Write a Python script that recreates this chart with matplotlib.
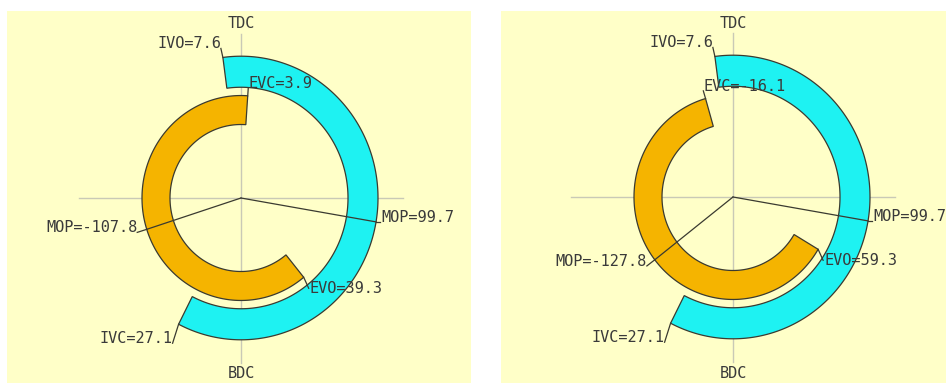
import numpy as np
import matplotlib
matplotlib.use("Agg")
import matplotlib.pyplot as plt

# ---------------- data (crank degrees) ----------------
panels = ["left", "right"]
ivo = [7.6, 7.6]          # intake valve opens, deg before TDC
ivc = [27.1, 27.1]        # intake valve closes, deg after BDC
evo = [39.3, 59.3]        # exhaust valve opens, deg before BDC
evc = [3.9, -16.1]        # exhaust valve closes, deg after TDC
mop_in = [99.7, 99.7]     # intake max opening point
mop_ex = [-107.8, -127.8] # exhaust max opening point

# ---------------- style ----------------
BG = "#FFFFC8"
CYAN = "#1EF2F2"
ORANGE = "#F5B400"
EDGE = "#3A3A30"
TXT = "#3A3A3A"
GRID = "#C9C9B6"
FONT = dict(family="DejaVu Sans Mono", fontsize=11, color=TXT)

R_IN_I, R_OUT_I = 107, 137   # intake ring radii (px)
R_IN_E, R_OUT_E = 71, 99     # exhaust ring radii (px)
K = 1.035                    # vertical stretch of the original picture

W, H = 951, 383
fig = plt.figure(figsize=(W / 100, H / 100), dpi=100)
fig.patch.set_facecolor("white")

# panel rectangles in pixels: (left, right, top, bottom, centre x, centre y)
frames = [(7, 471, 11, 383, 241, 198), (501, 946, 11, 383, 733, 197)]


def pol(theta, r):
    t = np.radians(theta)
    return r * np.sin(t), K * r * np.cos(t)


def ring(ax, th0, th1, r_in, r_out, color):
    t = np.linspace(th0, th1, 300)
    xo, yo = pol(t, r_out)
    xi, yi = pol(t[::-1], r_in)
    ax.fill(np.r_[xo, xi], np.r_[yo, yi], facecolor=color, edgecolor=EDGE,
            lw=0.9, zorder=2)


def label(ax, theta, r, text, dx, dy, ha, va, tdx=0, tdy=0):
    x0, y0 = pol(theta, r)
    x1, y1 = x0 + dx, y0 - dy
    ax.plot([x0, x1], [y0, y1], color=EDGE, lw=0.9, zorder=4)
    ax.text(x1 + tdx, y1 - tdy, text, ha=ha, va=va, zorder=5, **FONT)


for i, (l, r, t, b, cx, cy) in enumerate(frames):
    ax = fig.add_axes([l / W, (H - b) / H, (r - l) / W, (b - t) / H])
    ax.set_facecolor(BG)
    ax.set_xlim(l - cx, r - cx)
    ax.set_ylim(cy - b, cy - t)
    ax.set_axis_off()
    ax.add_patch(plt.Rectangle((0, 0), 1, 1, transform=ax.transAxes,
                               facecolor=BG, edgecolor="none", zorder=0))

    # crosshair
    ax.plot([-162, 162], [0, 0], color=GRID, lw=1, zorder=1)
    ax.plot([0, 0], [-165, 164], color=GRID, lw=1, zorder=1)

    # intake (cyan) and exhaust (orange) rings
    ring(ax, -ivo[i], 180 + ivc[i], R_IN_I, R_OUT_I, CYAN)
    ring(ax, 180 - evo[i], 360 + evc[i], R_IN_E, R_OUT_E, ORANGE)

    # MOP lines
    xm, ym = pol(mop_in[i], R_OUT_I)
    ax.plot([0, xm], [0, ym], color=EDGE, lw=0.9, zorder=3)
    xe, ye = pol(360 + mop_ex[i], R_OUT_E)
    ax.plot([0, xe], [0, ye], color=EDGE, lw=0.9, zorder=3)

    # TDC / BDC
    ax.text(0, 174, "TDC", ha="center", va="center", **FONT)
    ax.text(0, -176, "BDC", ha="center", va="center", **FONT)

    # labels with short leaders
    label(ax, -ivo[i], R_OUT_I, f"IVO={ivo[i]:g}", -2, -9, "right", "baseline")
    th = 360 + evc[i]
    ux, uy = np.sin(np.radians(th)), np.cos(np.radians(th))
    label(ax, th, R_OUT_E, f"EVC={evc[i]:g}", 8 * ux, -8 * uy, "left", "baseline")
    label(ax, mop_in[i], R_OUT_I, f"MOP={mop_in[i]:g}", 4, 0, "left", "baseline", tdx=1)
    th = 360 + mop_ex[i]
    ux, uy = np.sin(np.radians(th)), np.cos(np.radians(th))
    label(ax, th, R_OUT_E, f"MOP={mop_ex[i]:g}", 10 * ux, -10 * uy, "right", "baseline")
    label(ax, 180 - evo[i], R_OUT_E, f"EVO={evo[i]:g}", 5, 11, "left", "center", tdx=1)
    label(ax, 180 + ivc[i], R_OUT_I, f"IVC={ivc[i]:g}", -6, 19, "right", "baseline")

fig.savefig("out.png", dpi=100, facecolor="white")
